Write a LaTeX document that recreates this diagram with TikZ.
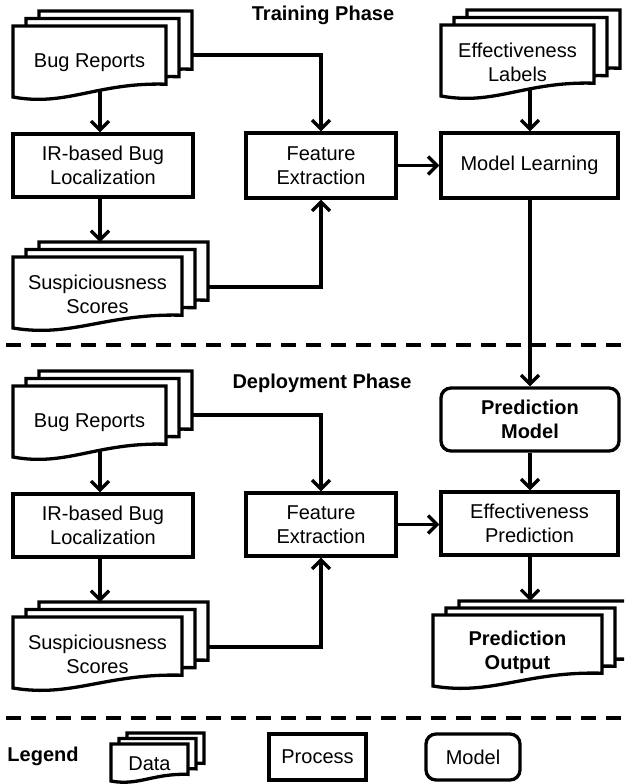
\documentclass[tikz,border=0pt]{standalone}
\usepackage{fontspec}
\setmainfont{Liberation Sans}
\usetikzlibrary{arrows.meta,calc}
\pgfdeclarelayer{bg}
\pgfsetlayers{bg,main}
\tikzset{
  sheet/.style={draw, line width=3.3pt, fill=white, line join=miter},
  txt/.style={font=\fontsize{20}{24}\selectfont, align=center, inner sep=0pt},
  btxt/.style={font=\bfseries\fontsize{20}{24}\selectfont, align=center, inner sep=0pt},
  procbox/.style={draw, line width=3.3pt, fill=white, align=center, inner sep=0pt, font=\fontsize{20}{24}\selectfont},
  modelbox/.style={procbox, rounded corners=10pt},
  conn/.style={line width=3.3pt, -{Straight Barb[length=9pt,width=18pt]}},
  dashline/.style={line width=3.5pt, dash pattern=on 15pt off 10pt, dash phase=-6pt},
}
\newcommand{\docsheet}[4]{%
  \draw[sheet] (#1,#2) -- ({#1+#3},#2) -- ({#1+#3},{#2+0.82*#4})
    .. controls ({#1+0.55*#3},{#2+0.79*#4}) and ({#1+0.35*#3},{#2+1.14*#4}) .. (#1,{#2+#4}) -- cycle;}
\newcommand{\mystack}[9]{%
  \docsheet{#2+2*#6}{#3-2*#7}{#4}{#5}%
  \docsheet{#2+#6}{#3-#7}{#4}{#5}%
  \docsheet{#2}{#3}{#4}{#5}%
  \node[#9] (#1) at ({#2+#4/2},{#3+0.52*#5}) {#8};}
\begin{document}
\begin{tikzpicture}[x=1pt,y=-1pt]
\useasboundingbox (0,0) rectangle (624,784);
\clip (0,0) rectangle (624,784);
\begin{pgfonlayer}{bg}
\fill[white] (0,0) rectangle (624,784);
\end{pgfonlayer}

% titles
\node[btxt] (ttrain) at (323,15) {Training Phase};
\node[btxt] (tdeploy) at (322,383) {Deployment Phase};
\node[btxt] (tlegend) at (43,756) {Legend};

% dashed separators
\draw[dashline] (0,345) -- (624,345);
\draw[dashline] (0,718) -- (624,718);

% training phase
\mystack{br1}{13}{26}{153}{71}{13}{7.5}{Bug Reports}{txt}
\mystack{el}{441}{25}{153}{71}{13}{7.5}{Effectiveness\\Labels}{txt}
\mystack{s1}{13}{257}{169}{71}{13}{7.5}{Suspiciousness\\Scores}{txt}
\node[procbox, minimum width=180pt, minimum height=63pt] (ir1) at (103,165.5) {IR-based Bug\\Localization};
\node[procbox, minimum width=150pt, minimum height=65pt] (fe1) at (321,165.5) {Feature\\Extraction};
\node[procbox, minimum width=177pt, minimum height=65pt] (ml) at (529.5,165.5) {Model Learning};

% deployment phase
\mystack{br2}{13}{386}{153}{71}{13}{7.5}{Bug Reports}{txt}
\mystack{s2}{13}{617}{169}{71}{13}{7.5}{Suspiciousness\\Scores}{txt}
\mystack{po}{433}{615}{169}{71}{13}{7}{Prediction\\Output}{btxt}
\node[procbox, minimum width=180pt, minimum height=63pt] (ir2) at (103,525.5) {IR-based Bug\\Localization};
\node[procbox, minimum width=150pt, minimum height=63pt] (fe2) at (321,524.5) {Feature\\Extraction};
\node[modelbox, minimum width=178pt, minimum height=63pt, font=\bfseries\fontsize{20}{24}\selectfont] (pm) at (530,419.5) {Prediction\\Model};
\node[procbox, minimum width=177pt, minimum height=63pt] (ep) at (529.5,523.5) {Effectiveness\\Prediction};

% legend
\mystack{data}{111}{744}{77}{37}{8}{5.5}{Data}{txt}
\node[procbox, minimum width=97pt, minimum height=46pt] (lproc) at (317.5,757) {Process};
\node[modelbox, minimum width=94pt, minimum height=46pt] (lmodel) at (473,757) {Model};

% connector anchor coordinates (inside sheets, hidden by their fill)
\coordinate (br1b) at (100,80);
\coordinate (br1o) at (150,55);
\coordinate (s1t) at (100,242);
\coordinate (s1o) at (150,287);
\coordinate (elb) at (530,80);
\coordinate (br2b) at (100,440);
\coordinate (br2o) at (150,415);
\coordinate (s2t) at (100,602);
\coordinate (s2o) at (150,647);
\coordinate (pot) at (530,601);

\begin{pgfonlayer}{bg}
\draw[conn] (br1b) -- (br1b |- ir1.north);
\draw[conn] (br1b |- ir1.south) -- (s1t);
\draw[conn] (br1o) -| (fe1.north);
\draw[conn] (s1o) -| (fe1.south);
\draw[conn] (fe1.east) -- (fe1.east -| ml.west);
\draw[conn] (elb) -- (elb |- ml.north);
\draw[conn] (elb |- ml.south) -- (pm.north);
\draw[conn] (br2b) -- (br2b |- ir2.north);
\draw[conn] (br2b |- ir2.south) -- (s2t);
\draw[conn] (br2o) -| (fe2.north);
\draw[conn] (s2o) -| (fe2.south);
\draw[conn] (fe2.east) -- (fe2.east -| ep.west);
\draw[conn] (pm.south) -- (pm.south |- ep.north);
\draw[conn] (ep.south -| pot) -- (pot);
\end{pgfonlayer}
\end{tikzpicture}
\end{document}
